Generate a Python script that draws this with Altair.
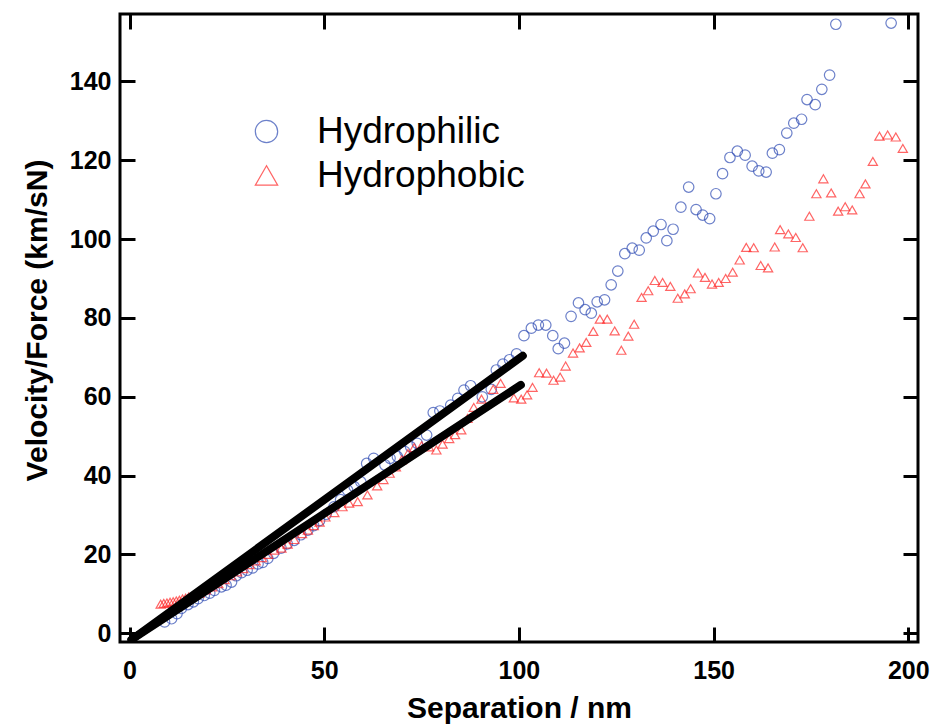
import altair as alt
import pandas as pd

# ---------------- data ----------------
philic_x = [9.0, 10.8, 12.2, 13.3, 15.0, 16.4, 17.6, 19.2, 20.6, 21.8, 23.6, 24.8, 26.2, 27.4,
            28.8, 30.2, 31.6, 33.0, 34.2, 35.5, 37.0, 38.9, 40.5, 42.3, 44.0, 45.8, 47.3, 48.8,
            50.5, 52.5, 54.2, 56.0, 57.7, 59.4, 60.9, 62.7, 65.6, 66.9, 68.8, 70.7, 72.2, 73.9,
            76.3, 78.0, 79.7, 82.5, 84.3, 85.9, 87.6, 90.6, 92.9, 94.2, 95.9, 97.6, 99.4, 101.3,
            103.2, 105.0, 106.9, 108.7, 110.1, 111.7, 113.4, 115.3, 117.0, 118.6, 120.1, 122.0,
            123.7, 125.4, 127.2, 129.1, 130.9, 132.7, 134.5, 136.5, 138.0, 139.6, 141.6, 143.6,
            145.5, 147.2, 149.0, 150.6, 152.3, 154.2, 156.1, 158.1, 159.9, 161.6, 163.5, 165.1,
            166.9, 168.8, 170.6, 172.6, 174.0, 176.1, 177.8, 179.8, 181.4, 195.6]
philic_y = [2.9, 3.7, 5.0, 6.3, 7.3, 8.0, 8.8, 9.6, 10.2, 10.9, 11.8, 12.2, 13.0, 14.6,
            15.4, 16.0, 16.6, 17.6, 18.0, 19.0, 20.3, 21.6, 22.7, 23.6, 25.0, 26.2, 27.3, 28.6,
            30.2, 32.1, 33.9, 36.3, 37.2, 38.4, 43.1, 44.4, 42.7, 44.4, 44.8, 46.1, 47.3, 48.2,
            50.3, 56.0, 56.4, 57.9, 59.6, 61.7, 62.8, 60.0, 61.9, 66.8, 68.3, 69.4, 70.9, 75.5,
            77.4, 78.2, 78.2, 75.5, 72.2, 73.6, 80.4, 83.8, 82.1, 81.2, 84.1, 84.6,
            88.4, 91.9, 96.3, 97.7, 97.2, 100.3, 102.0, 103.7, 99.6, 102.5, 108.1, 113.2,
            107.5, 106.1, 105.2, 111.5, 116.6, 120.7, 122.3, 121.3, 118.5, 117.3, 117.0, 121.8,
            122.7, 126.9, 129.4, 130.4, 135.4, 134.1, 138.0, 141.6, 154.5, 154.8]

phobic_x = [8.0, 8.8, 9.6, 10.4, 11.2, 12.0, 12.8, 13.6, 14.4, 15.2, 16.5, 18.0, 19.6, 21.2,
            22.8, 24.4, 26.0, 27.6, 29.2, 30.8, 32.4, 34.0, 35.6, 37.2, 39.0, 40.6, 42.3, 44.3,
            45.8, 47.3, 48.8, 50.3, 52.6, 54.7, 56.4, 58.6, 61.1, 63.6, 65.2, 66.8, 68.4, 69.9,
            71.5, 73.1, 75.0, 76.9, 78.8, 80.4, 82.1, 83.6, 85.2, 86.8, 88.4, 90.4, 93.4, 95.3,
            98.7, 100.6, 102.1, 103.5, 105.2, 107.1, 108.9, 110.6, 112.0, 113.9, 115.6, 117.3,
            119.1, 120.8, 122.7, 124.6, 126.3, 128.1, 129.6, 131.5, 133.2, 134.9, 136.9, 138.9,
            140.8, 142.6, 144.1, 146.0, 147.8, 149.6, 151.3, 153.1, 154.9, 156.7, 158.4, 160.3,
            162.1, 164.0, 165.7, 167.1, 169.2, 171.1, 172.9, 174.6, 176.4, 178.2, 180.2, 182.0,
            183.8, 185.6, 187.5, 189.0, 190.9, 192.6, 194.7, 196.8, 198.6]
phobic_y = [7.4, 7.6, 7.7, 7.9, 8.0, 8.2, 8.4, 8.7, 8.9, 9.2, 9.6, 10.2, 11.0, 11.8,
            12.6, 13.6, 14.6, 15.6, 16.4, 17.4, 18.4, 19.2, 20.0, 21.1, 21.6, 22.6, 23.8, 25.3,
            26.2, 27.3, 28.2, 29.5, 30.6, 32.1, 33.0, 33.4, 35.1, 37.4, 39.0, 40.6, 42.2, 44.0,
            45.6, 47.1, 47.6, 47.3, 46.5, 48.0, 49.4, 50.4, 51.6, 54.5, 57.3, 59.4, 61.9, 63.4,
            59.7, 59.4, 60.5, 62.4, 66.1, 66.0, 64.2, 65.0, 67.8, 71.1, 72.4, 73.8,
            76.6, 79.7, 79.7, 76.7, 71.8, 75.4, 78.4, 85.2, 86.9, 89.5, 89.0, 88.0,
            85.0, 86.1, 87.4, 91.4, 90.3, 88.6, 89.0, 90.0, 91.6, 94.7, 97.9, 97.8,
            93.3, 92.7, 98.0, 102.4, 101.3, 100.4, 97.8, 105.8, 111.5, 115.3, 111.7, 107.1,
            108.2, 107.4, 111.5, 114.0, 119.7, 126.1, 126.4, 125.9, 123.0]

series_names = ["Hydrophilic", "Hydrophobic"]
series_colors = ["#2f4cb4", "#ff2424"]
series_shapes = ["circle", "triangle-up"]

fit_philic_x = [0.5, 101.0]
fit_philic_y = [-1.6, 70.4]
fit_phobic_x = [0.5, 100.5]
fit_phobic_y = [-1.6, 63.0]

x_ticks = [0, 50, 100, 150, 200]
y_ticks = [0, 20, 40, 60, 80, 100, 120, 140]
x_domain = [-2.45, 202.5]
y_domain = [-2.2, 157.1]

# ---------------- tables ----------------
df_philic = pd.DataFrame({"sep": philic_x, "vf": philic_y, "series": series_names[0]})
df_phobic = pd.DataFrame({"sep": phobic_x, "vf": phobic_y, "series": series_names[1]})
df_fit = pd.concat([
    pd.DataFrame({"sep": fit_philic_x, "vf": fit_philic_y, "fit": "philic"}),
    pd.DataFrame({"sep": fit_phobic_x, "vf": fit_phobic_y, "fit": "phobic"}),
])

FONT = "Liberation Sans"


def xscale():
    return alt.Scale(domain=x_domain, nice=False, zero=False)


def yscale():
    return alt.Scale(domain=y_domain, nice=False, zero=False)


common_axis = dict(offset=-15, tickSize=15, tickWidth=3, tickColor="black",
                   domain=False, grid=False)

x_axis = alt.Axis(orient="bottom", values=x_ticks, labelFont=FONT, labelFontSize=25,
                  labelFontWeight="bold", labelColor="black", labelPadding=16,
                  title="Separation / nm", titleFont=FONT, titleFontSize=30,
                  titleFontWeight="bold", titleColor="black", titlePadding=10,
                  **common_axis)
y_axis = alt.Axis(orient="left", values=y_ticks, labelFont=FONT, labelFontSize=25,
                  labelFontWeight="bold", labelColor="black", labelPadding=9,
                  title="Velocity/Force (km/sN)", titleFont=FONT, titleFontSize=30,
                  titleFontWeight="bold", titleColor="black", titlePadding=17,
                  titleY=306, **common_axis)
x_axis_top = alt.Axis(orient="top", values=x_ticks, labels=False, title="", **common_axis)
y_axis_right = alt.Axis(orient="right", values=y_ticks, labels=False, title="", **common_axis)

legend = alt.Legend(orient="none", legendX=128, legendY=99, title=None,
                    labelFont=FONT, labelFontSize=37, labelColor="black", labelLimit=500,
                    symbolSize=500, symbolStrokeWidth=1.2, labelOffset=32,
                    rowPadding=6, padding=0)

color_enc = alt.Color("series:N", scale=alt.Scale(domain=series_names, range=series_colors),
                      legend=legend)
shape_enc = alt.Shape("series:N", scale=alt.Scale(domain=series_names, range=series_shapes),
                      legend=legend)

p_philic = alt.Chart(df_philic).mark_point(filled=False, size=110, strokeWidth=1.2,
                                           clip=True).encode(
    x=alt.X("sep:Q", scale=xscale(), axis=x_axis),
    y=alt.Y("vf:Q", scale=yscale(), axis=y_axis),
    color=color_enc, shape=shape_enc)

p_phobic = alt.Chart(df_phobic).mark_point(filled=False, size=85, strokeWidth=1.2,
                                           clip=True).encode(
    x=alt.X("sep:Q", scale=xscale(), axis=x_axis),
    y=alt.Y("vf:Q", scale=yscale(), axis=y_axis),
    color=color_enc, shape=shape_enc)

points = alt.layer(p_philic, p_phobic)

lines = alt.Chart(df_fit).mark_line(color="black", strokeWidth=8, strokeCap="round",
                                     clip=True).encode(
    x=alt.X("sep:Q", scale=xscale(), axis=x_axis_top),
    y=alt.Y("vf:Q", scale=yscale(), axis=y_axis_right),
    detail="fit:N")

chart = alt.layer(points, lines).resolve_scale(
    x="independent", y="independent"
).properties(
    width=798, height=628,
    padding={"left": 120, "top": 14, "right": 14, "bottom": 83},
    autosize=alt.AutoSizeParams(type="none"),
    background="white",
).configure_view(stroke="black", strokeWidth=3)

chart.save("out.html", embed_options={"renderer": "svg", "actions": False})
